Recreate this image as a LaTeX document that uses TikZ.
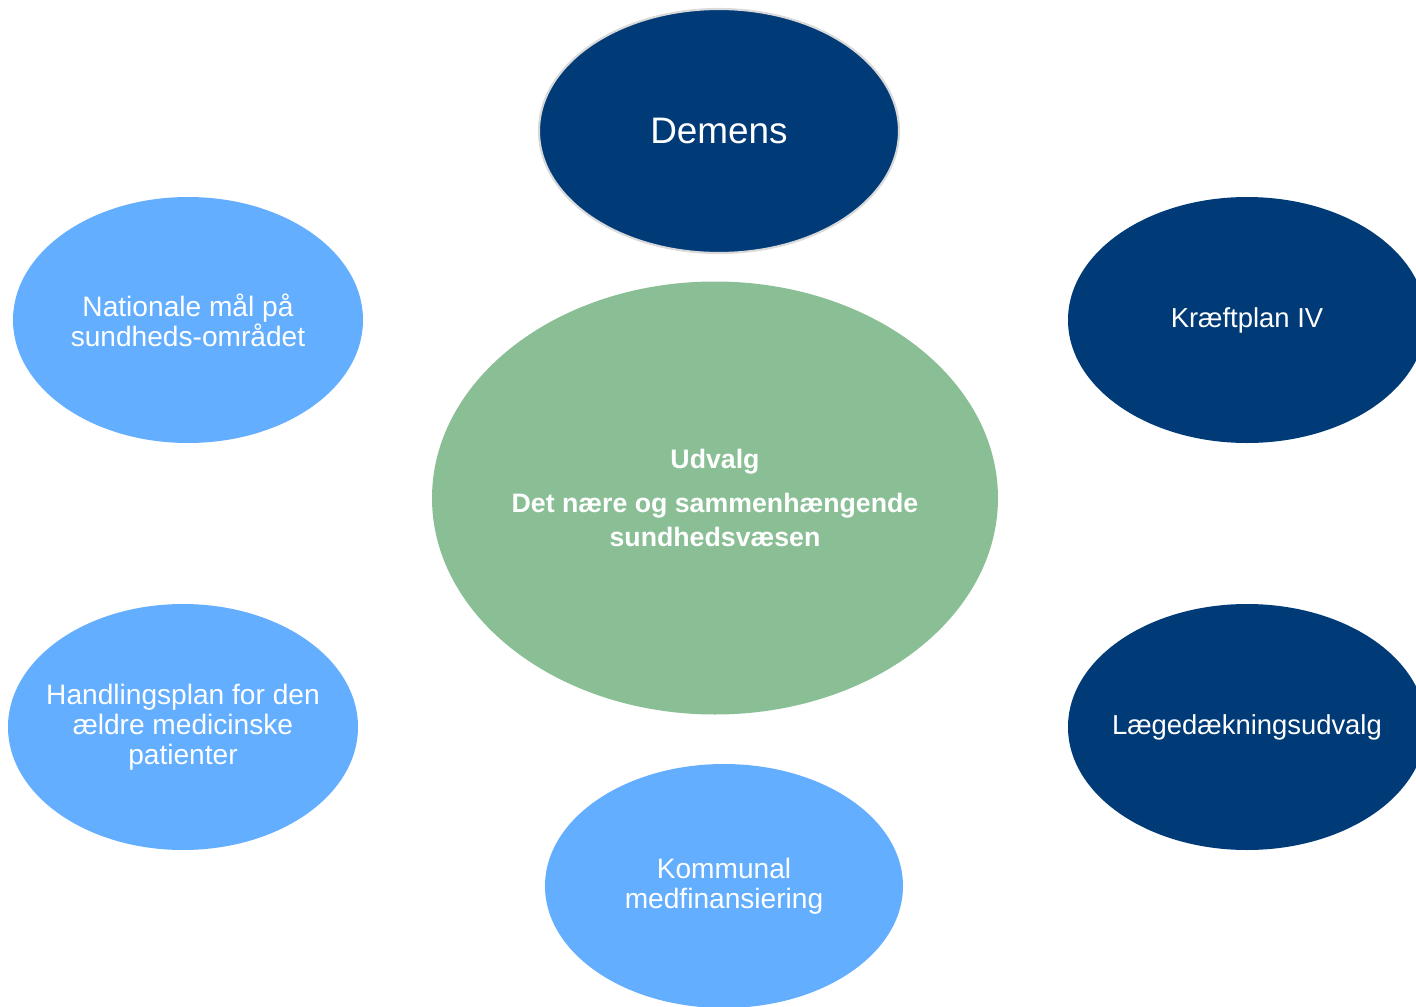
\documentclass[tikz,border=0pt]{standalone}
\usepackage{fontspec}
\setmainfont{Liberation Sans}
\usetikzlibrary{shapes.geometric}
\definecolor{moerkblaa}{RGB}{0,59,119}
\definecolor{lyseblaa}{RGB}{99,174,255}
\definecolor{groen}{RGB}{138,191,150}
\tikzset{
	boble/.style={ellipse,inner xsep=-1cm,inner ysep=0pt,text=white,align=center,
		minimum width=3.58cm,minimum height=2.46cm,font=\fontsize{7.8}{8.5}\selectfont},
	moerk/.style={boble,fill=moerkblaa},
	lys/.style={boble,fill=lyseblaa,minimum width=3.5cm,font=\fontsize{8}{8.5}\selectfont}
}
\begin{document}
\begin{tikzpicture}
				\useasboundingbox (0,0) rectangle (14.16,-10.07)
				;
				\clip (0,0) rectangle (14.16,-10.07)
				;
				\path
				(7.19,-1.31) coordinate (D)
				(7.15,-4.98) coordinate (U)
				(1.88,-3.20) coordinate (N)
				(12.47,-3.20) coordinate (K)
				(1.83,-7.27) coordinate (H)
				(12.47,-7.27) coordinate (L)
				(7.24,-8.86) coordinate (M)
				;
				\node[boble,fill=groen,minimum width=5.66cm,minimum height=4.33cm,font=\fontsize{7.6}{9.7}\selectfont\bfseries] (udvalg) at (U) {Udvalg\\[3pt]Det nære og sammenhængende\\sundhedsvæsen}
				;
				\node[moerk,draw=black!15,line width=.6pt,minimum width=3.6cm,minimum height=2.44cm,font=\fontsize{10.5}{12}\selectfont] (demens) at (D) {Demens}
				;
				\node[moerk] (kraeft) at (K) {Kræftplan IV}
				;
				\node[moerk] (laege) at (L) {Lægedækningsudvalg}
				;
				\node[lys] (nationale) at (N) {Nationale mål på\\sundheds-området}
				;
				\node[lys] (handling) at (H) {Handlingsplan for den\\ældre medicinske\\patienter}
				;
				\node[lys,minimum width=3.58cm,minimum height=2.44cm] (kommunal) at (M) {Kommunal\\medfinansiering}
				;
		\end{tikzpicture}
\end{document}
